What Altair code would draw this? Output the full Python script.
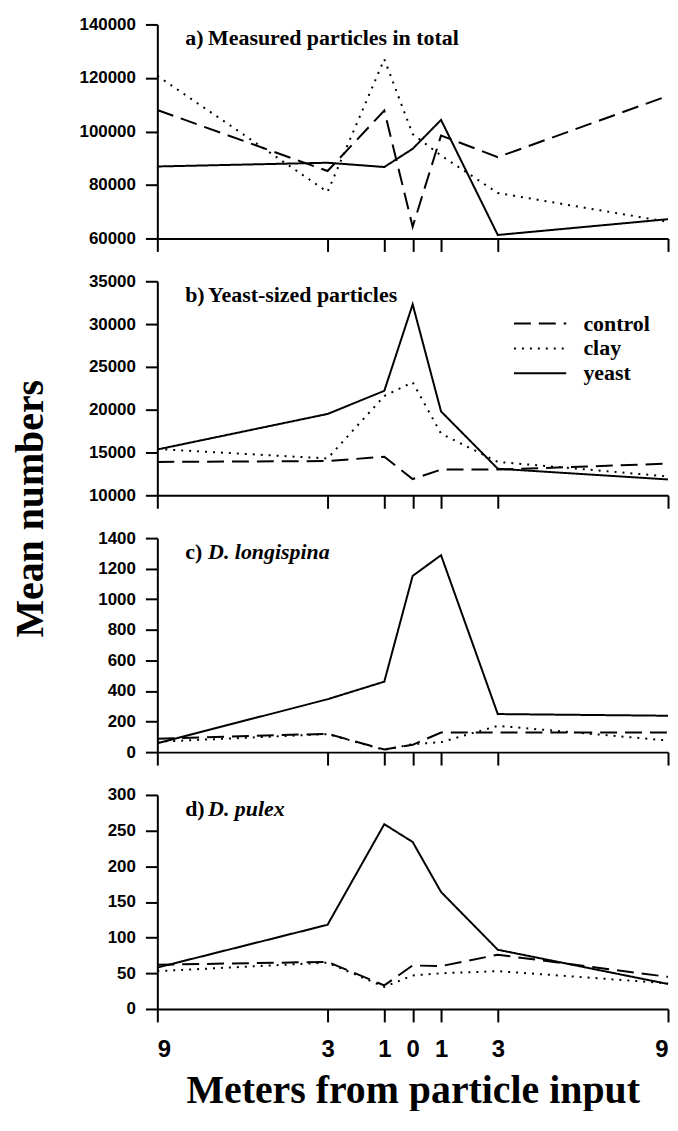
import altair as alt
import pandas as pd

# ---------------- data ----------------
distances = [-9, -3, -1, 0, 1, 3, 9]
series = ["control", "clay", "yeast"]

a_control = [108000, 85200, 107800, 64400, 98500, 90400, 113300]
a_clay = [120800, 77400, 127000, 99000, 91000, 77000, 66200]
a_yeast = [86900, 88300, 86700, 93500, 104300, 61300, 67200]

b_control = [13900, 14000, 14500, 11900, 13000, 13000, 13700]
b_clay = [15400, 14300, 21600, 23200, 17200, 13900, 12200]
b_yeast = [15350, 19500, 22200, 32300, 19800, 13100, 11850]

c_control = [88, 120, 17, 48, 128, 128, 128]
c_clay = [68, 118, 15, 52, 65, 172, 76]
c_yeast = [58, 346, 461, 1153, 1288, 249, 238]

d_control = [62, 66, 33, 61, 60, 76, 45]
d_clay = [53, 65, 31, 47, 50, 53, 36]
d_yeast = [58, 118, 259, 234, 164, 83, 35]

panel_prefix = ["a)", "b)", "c)", "d)"]
panel_names = ["Measured particles in total", "Yeast-sized particles", "D. longispina", "D. pulex"]
panel_italic = [False, False, True, True]
panel_domains = [[60000, 140000], [10000, 35000], [0, 1400], [0, 300]]
panel_ticks = [
    [60000, 80000, 100000, 120000, 140000],
    [10000, 15000, 20000, 25000, 30000, 35000],
    [0, 200, 400, 600, 800, 1000, 1200, 1400],
    [0, 50, 100, 150, 200, 250, 300],
]
panel_values = [
    [a_control, a_clay, a_yeast],
    [b_control, b_clay, b_yeast],
    [c_control, c_clay, c_yeast],
    [d_control, d_clay, d_yeast],
]

x_title = "Meters from particle input"
y_title = "Mean numbers"

W = 513
H = 215
SERIF = "Liberation Serif"
SANS = "Liberation Sans"


def make_df(vals):
    rows = []
    for s, ys in zip(series, vals):
        for d, v in zip(distances, ys):
            rows.append({"distance": d, "value": v, "series": s})
    return pd.DataFrame(rows)


panels = []
for i in range(4):
    last = i == 3
    df = make_df(panel_values[i])
    x_axis_kwargs = dict(
        values=distances,
        labels=last,
        ticks=True,
        tickSize=13,
        grid=False,
        labelFont=SANS,
        labelFontSize=24,
        labelFontWeight="bold",
        labelPadding=16,
        labelExpr="abs(datum.value)",
    )
    if last:
        x_axis_kwargs.update(
            title=x_title,
            titleFont=SERIF,
            titleFontSize=40,
            titleFontWeight="bold",
            titlePadding=9,
        )
    else:
        x_axis_kwargs.update(title=None)

    y_axis_kwargs = dict(
        values=panel_ticks[i],
        tickSize=12,
        grid=False,
        labelFont=SANS,
        labelFontSize=17,
        labelFontWeight="bold",
        labelPadding=10,
        format="d",
    )
    if i == 2:
        y_axis_kwargs.update(
            title=y_title,
            titleFont=SERIF,
            titleFontSize=40,
            titleFontWeight="bold",
            titleX=-127,
            titleY=-30,
            titleAngle=270,
            titleAlign="center",
            titleBaseline="middle",
        )
    else:
        y_axis_kwargs.update(title=None)

    legend = None
    if i == 0:
        legend = alt.Legend(
            title=None,
            orient="none",
            legendX=373,
            legendY=289,
            symbolType="M-2.5,0H2.5",
            symbolSize=441,
            symbolStrokeWidth=2,
            symbolStrokeColor="black",
            symbolFillColor="transparent",
            labelFont=SERIF,
            labelFontSize=22,
            labelFontWeight="bold",
            labelColor="black",
            labelOffset=32,
            rowPadding=2,
        )

    lines = alt.Chart(df).mark_line(strokeWidth=2, color="black").encode(
        x=alt.X("distance:Q", scale=alt.Scale(domain=[-9, 9], nice=False, zero=False),
                axis=alt.Axis(**x_axis_kwargs)),
        y=alt.Y("value:Q", scale=alt.Scale(domain=panel_domains[i], nice=False, zero=False),
                axis=alt.Axis(**y_axis_kwargs)),
        strokeDash=alt.StrokeDash(
            "series:N",
            scale=alt.Scale(domain=series, range=[[17, 8], [2, 6], [1, 0]]),
            legend=legend,
        ),
    )

    lab_df = pd.DataFrame({"p": [panel_prefix[i]], "n": [panel_names[i]]})
    prefix_txt = alt.Chart(lab_df).mark_text(
        font=SERIF, fontSize=22, fontWeight="bold", align="left", baseline="alphabetic", color="black"
    ).encode(
        text="p:N",
        x=alt.value(28),
        y=alt.value(21),
    )
    if panel_italic[i]:
        name_txt = alt.Chart(lab_df).mark_text(
            font=SERIF, fontSize=22, fontWeight="bold", fontStyle="italic", align="left",
            baseline="alphabetic", color="black"
        ).encode(text="n:N", x=alt.value(51), y=alt.value(21))
    else:
        name_txt = alt.Chart(lab_df).mark_text(
            font=SERIF, fontSize=22, fontWeight="bold", align="left",
            baseline="alphabetic", color="black"
        ).encode(text="n:N", x=alt.value(51), y=alt.value(21))

    panels.append(alt.layer(lines, prefix_txt, name_txt).properties(width=W, height=H))

chart = alt.vconcat(*panels, spacing=43, bounds="flush").properties(
    padding={"left": 2, "top": 5, "right": -2, "bottom": -2}
).configure_view(stroke=None).configure_axis(
    domainColor="black",
    domainWidth=2,
    tickColor="black",
    tickWidth=2,
    labelColor="black",
    titleColor="black",
)

chart.save("out.html", embed_options={"renderer": "svg", "actions": False})
